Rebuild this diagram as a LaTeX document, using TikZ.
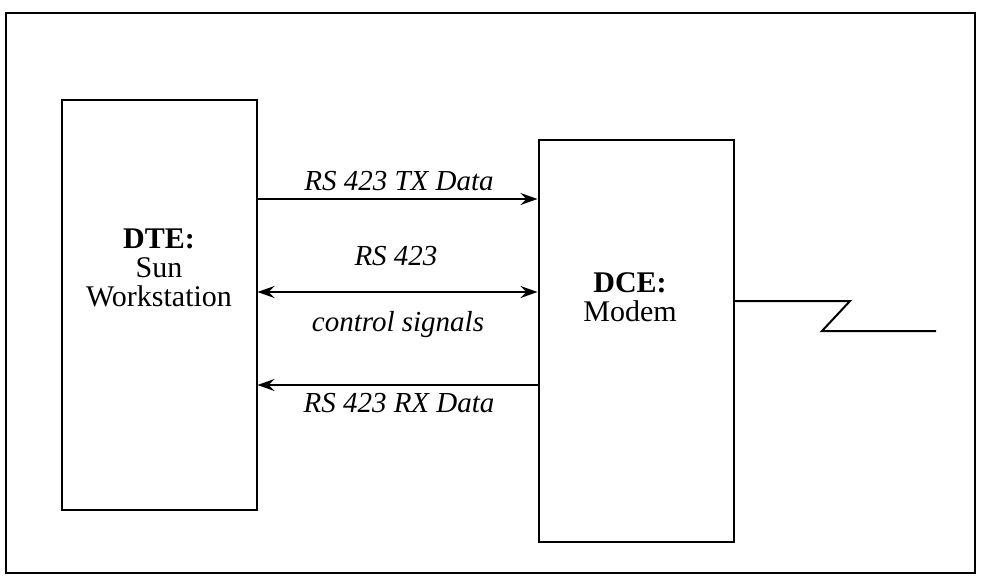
\documentclass[tikz,border=0pt]{standalone}
\usepackage{fontspec}
\setmainfont{Liberation Serif}
\usetikzlibrary{arrows.meta}
\begin{document}
\begin{tikzpicture}[x=1pt,y=-1pt,
  box/.style={draw,line width=2pt,minimum width=195pt,inner sep=0pt},
  frame/.style={draw,line width=2pt},
  tip/.tip={Stealth[length=17pt,width=12pt,inset=6pt]},
  arr/.style={line width=1.6pt,-tip},
  darr/.style={line width=1.6pt,tip-tip},
  lbl/.style={font=\fontsize{29}{30}\selectfont\itshape,anchor=base,inner sep=0pt},
  btxt/.style={font=\fontsize{30}{29}\selectfont,align=center,anchor=base,inner sep=0pt},
  wire/.style={line width=2pt}]
\useasboundingbox (0,0) rectangle (983,584);
\draw[frame] (6,13) rectangle (975,573);
\node[box,minimum height=410pt] (dte) at (159,305) {};
\node[box,minimum height=402pt] (dce) at (636,341) {};
\node[btxt] (dtet) at (159,306) {\textbf{DTE:}\\Sun\\Workstation};
\node[btxt] (dcet) at (630,321) {\textbf{DCE:}\\Modem};
\draw[arr] (dte.east |- 0,199) -- (dce.west |- 0,199);
\draw[darr] (dte.east |- 0,292) -- (dce.west |- 0,292);
\draw[arr] (dce.west |- 0,385) -- (dte.east |- 0,385);
\node[lbl] (l1) at (399,190) {RS 423 TX Data};
\node[lbl] (l2) at (396,265) {RS 423};
\node[lbl] (l3) at (398,331) {control signals};
\node[lbl] (l4) at (399,412) {RS 423 RX Data};
\coordinate (z1) at (850,301);
\coordinate (z2) at (822,331);
\coordinate (z3) at (936,331);
\draw[wire,line join=miter] (dce.east |- 0,301) -- (z1) -- (z2) -- (z3);
\end{tikzpicture}
\end{document}
